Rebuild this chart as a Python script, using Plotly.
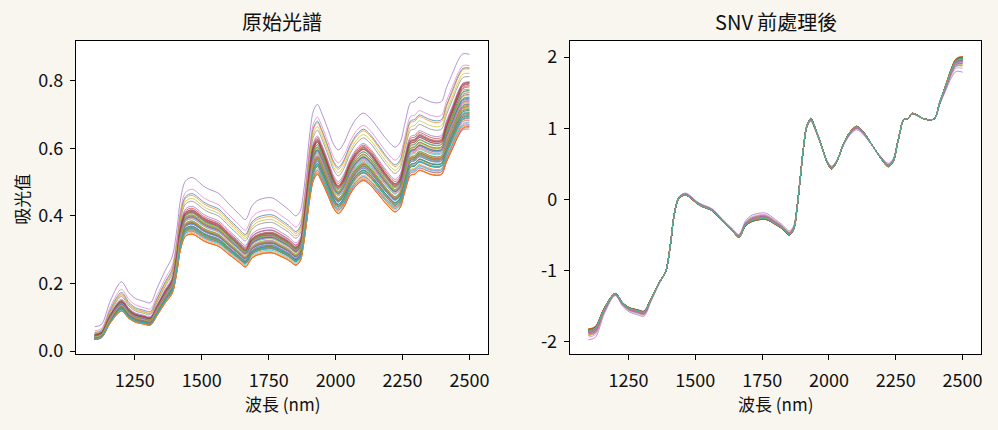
import numpy as np
import plotly.graph_objects as go

# Wavelength points (nm)
wavelengths = [1100, 1125, 1160, 1200, 1228, 1253, 1284, 1308, 1333, 1364, 1389, 1408,
               1420, 1439, 1464, 1507, 1526, 1563, 1600, 1638, 1663, 1688, 1712, 1762,
               1799, 1824, 1852, 1868, 1880, 1892, 1905, 1917, 1932, 1948, 1973, 1992,
               2010, 2029, 2054, 2079, 2104, 2129, 2159, 2190, 2222, 2240, 2259, 2280,
               2296, 2312, 2333, 2352, 2377, 2396, 2414, 2439, 2458, 2476, 2500]

# Typical SNV profile
snv_profile = [-1.82, -1.79, -1.52, -1.32, -1.45, -1.52, -1.55, -1.57, -1.40, -1.17, -1.01, -0.60,
               -0.23, 0.02, 0.06, -0.06, -0.10, -0.16, -0.30, -0.44, -0.53, -0.37, -0.31, -0.28,
               -0.35, -0.41, -0.50, -0.42, -0.14, 0.28, 0.74, 1.03, 1.14, 1.01, 0.74, 0.53,
               0.43, 0.53, 0.78, 0.95, 1.03, 0.95, 0.78, 0.60, 0.46, 0.53, 0.83, 1.12,
               1.14, 1.21, 1.18, 1.14, 1.12, 1.14, 1.36, 1.63, 1.84, 1.98, 2.01]

# Deviation of the most extreme spectrum from the typical SNV profile
snv_deviation = [-0.15, -0.15, -0.08, -0.03, -0.05, -0.06, -0.07, -0.07, -0.04, -0.02, 0.0, 0.0,
                 0.0, 0.02, 0.03, 0.03, 0.03, 0.03, 0.03, 0.03, 0.04, 0.07, 0.09, 0.09,
                 0.07, 0.06, 0.06, 0.05, 0.02, 0.0, 0.0, -0.02, -0.04, -0.03, 0.0, 0.02,
                 0.04, 0.02, -0.02, -0.04, -0.05, -0.04, -0.01, 0.02, 0.05, 0.04, 0.01, 0.0,
                 0.0, -0.01, -0.01, 0.0, 0.0, 0.0, -0.03, -0.08, -0.13, -0.18, -0.22]

# Per-sample absorbance at 1100 nm and 2500 nm, and deviation weight
sample_start = [0.055, 0.052, 0.040, 0.038, 0.072, 0.045, 0.060, 0.050, 0.052, 0.041,
                0.036, 0.034, 0.044, 0.047, 0.035, 0.046, 0.039, 0.042, 0.043, 0.040,
                0.038, 0.037, 0.041, 0.035, 0.045, 0.044, 0.040, 0.036, 0.043, 0.039,
                0.042, 0.034, 0.037, 0.046, 0.048, 0.041, 0.037, 0.040, 0.044, 0.036,
                0.043, 0.039, 0.038, 0.040, 0.034, 0.047, 0.042, 0.045, 0.041, 0.035,
                0.044, 0.036, 0.046, 0.048, 0.038, 0.049, 0.043, 0.039, 0.042, 0.037]
sample_end = [0.838, 0.835, 0.712, 0.690, 0.878, 0.760, 0.845, 0.812, 0.822, 0.730,
              0.700, 0.662, 0.745, 0.795, 0.670, 0.790, 0.705, 0.722, 0.738, 0.718,
              0.695, 0.684, 0.728, 0.665, 0.775, 0.765, 0.715, 0.688, 0.750, 0.708,
              0.740, 0.675, 0.698, 0.782, 0.797, 0.732, 0.682, 0.712, 0.757, 0.692,
              0.748, 0.701, 0.706, 0.725, 0.657, 0.786, 0.735, 0.770, 0.720, 0.678,
              0.752, 0.668, 0.772, 0.792, 0.703, 0.795, 0.742, 0.716, 0.726, 0.694]
sample_weight = [0.6, 0.55, 0.25, 0.2, 1.0, 0.15, 0.75, 0.45, 0.5, 0.3,
                 0.2, 0.1, 0.3, 0.2, 0.35, 0.05, 0.3, 0.25, 0.2, 0.15,
                 0.25, 0.1, 0.05, 0.05, 0.35, 0.1, 0.3, 0.2, 0.25, 0.2,
                 0.3, 0.05, 0.0, 0.1, 0.3, 0.1, 0.4, 0.2, 0.2, 0.15,
                 0.2, 0.0, 0.05, 0.1, 0.45, 0.0, 0.3, 0.2, 0.15, 0.1,
                 0.15, 0.0, 0.1, 0.05, 0.3, 0.05, 0.3, 0.2, 0.15, 0.1]

x_ticks = [1250, 1500, 1750, 2000, 2250, 2500]
left_y_ticks = [0.0, 0.2, 0.4, 0.6, 0.8]
left_y_labels = ["0.0", "0.2", "0.4", "0.6", "0.8"]
right_y_ticks = [-2, -1, 0, 1, 2]
right_y_labels = ["-2", "-1", "0", "1", "2"]

colors = ["#1f77b4", "#ff7f0e", "#2ca02c", "#d62728", "#9467bd",
          "#8c564b", "#e377c2", "#7f7f7f", "#bcbd22", "#17becf"]

FONT = "Noto Sans CJK TC, Noto Sans, sans-serif"
BG = "#f8f6ef"

wl = np.array(wavelengths, dtype=float)
prof = np.array(snv_profile)
dev = np.array(snv_deviation)

fig = go.Figure()
for i in range(len(sample_start)):
    snv_i = prof + sample_weight[i] * dev
    sd = (sample_end[i] - sample_start[i]) / (snv_i[-1] - snv_i[0])
    mean = sample_start[i] - snv_i[0] * sd
    raw_i = mean + sd * snv_i
    c = colors[i % 10]
    fig.add_trace(go.Scatter(x=wl, y=raw_i, mode="lines", xaxis="x", yaxis="y",
                             line=dict(color=c, width=0.7, shape="spline", smoothing=0.9),
                             showlegend=False, hoverinfo="skip"))
for i in range(len(sample_start)):
    snv_i = prof + sample_weight[i] * dev
    c = colors[i % 10]
    fig.add_trace(go.Scatter(x=wl, y=snv_i, mode="lines", xaxis="x2", yaxis="y2",
                             line=dict(color=c, width=0.7, shape="spline", smoothing=0.9),
                             showlegend=False, hoverinfo="skip"))

axis_common = dict(showgrid=False, zeroline=False, showline=True, linecolor="black",
                   linewidth=1, mirror=True, ticks="outside", ticklen=5, tickwidth=1,
                   tickcolor="black", tickfont=dict(family=FONT, size=18, color="#111"))

y0, y1 = 69 / 430, 388.7 / 430
fig.update_layout(
    width=998, height=430,
    paper_bgcolor=BG, plot_bgcolor="white",
    margin=dict(l=0, r=0, t=0, b=0),
    xaxis=dict(domain=[76 / 998, 488.7 / 998], range=[1030, 2570], anchor="y",
               tickvals=x_ticks, ticklabelstandoff=5, **axis_common),
    yaxis=dict(domain=[y0, y1], range=[-0.0096, 0.919], anchor="x",
               tickvals=left_y_ticks, ticktext=left_y_labels, ticklabelstandoff=3, **axis_common),
    xaxis2=dict(domain=[570.3 / 998, 982.3 / 998], range=[1030, 2570], anchor="y2",
                tickvals=x_ticks, ticklabelstandoff=5, **axis_common),
    yaxis2=dict(domain=[y0, y1], range=[-2.175, 2.234], anchor="x2",
                tickvals=right_y_ticks, ticktext=right_y_labels, ticklabelstandoff=3, **axis_common),
    annotations=[
        dict(text="原始光譜", x=(76 + 488.7) / 2 / 998, y=1 - 22 / 430, xref="paper", yref="paper",
             showarrow=False, xanchor="center", yanchor="middle",
             font=dict(family=FONT, size=20, color="#111")),
        dict(text="SNV 前處理後", x=(570.3 + 982.3) / 2 / 998, y=1 - 22 / 430, xref="paper", yref="paper",
             showarrow=False, xanchor="center", yanchor="middle",
             font=dict(family=FONT, size=20, color="#111")),
        dict(text="波長 (nm)", x=(76 + 488.7) / 2 / 998, y=1 - 411 / 430, xref="paper", yref="paper",
             showarrow=False, xanchor="center", yanchor="middle",
             font=dict(family=FONT, size=17, color="#111")),
        dict(text="波長 (nm)", x=(570.3 + 982.3) / 2 / 998, y=1 - 411 / 430, xref="paper", yref="paper",
             showarrow=False, xanchor="center", yanchor="middle",
             font=dict(family=FONT, size=17, color="#111")),
        dict(text="吸光值", x=21.5 / 998, y=1 - 203 / 430, xref="paper", yref="paper",
             showarrow=False, xanchor="center", yanchor="middle", textangle=-90,
             font=dict(family=FONT, size=17, color="#111")),
    ],
)

fig.write_html("out.html")
